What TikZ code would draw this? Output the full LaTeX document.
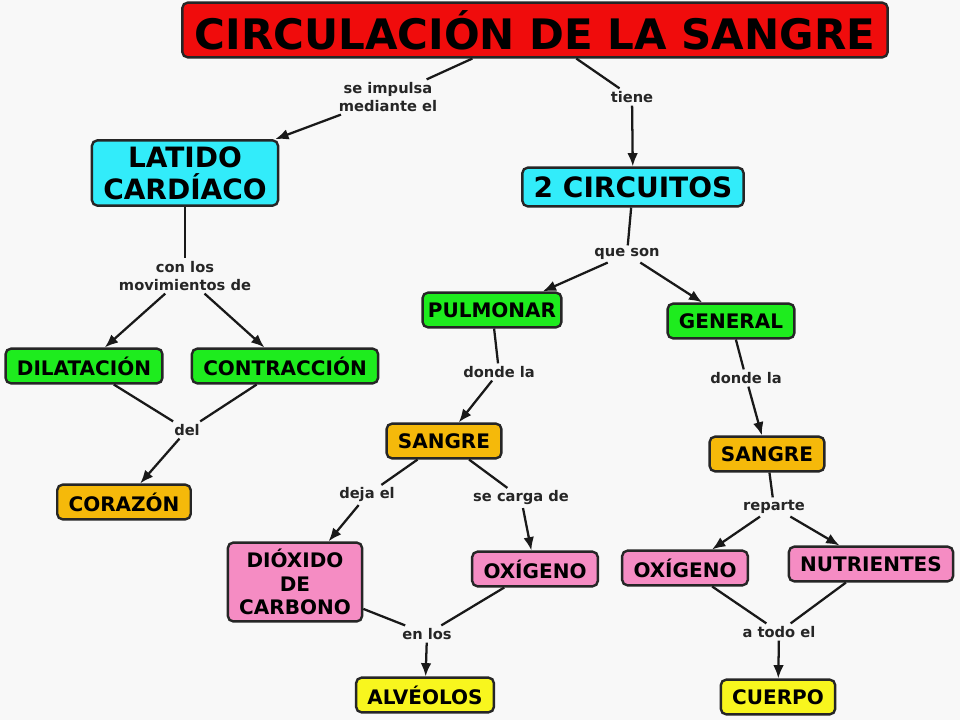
\documentclass[tikz,border=0pt]{standalone}
\usepackage{fontspec}
\setmainfont{DejaVu Sans}
\usetikzlibrary{arrows.meta}

\definecolor{fondo}{RGB}{248,248,248}
\definecolor{rojo}{RGB}{240,12,12}
\definecolor{celeste}{RGB}{50,236,250}
\definecolor{verde}{RGB}{30,236,30}
\definecolor{naranja}{RGB}{245,185,10}
\definecolor{rosa}{RGB}{245,140,195}
\definecolor{amarillo}{RGB}{248,246,30}

\tikzset{
  concepto/.style={draw=black!85, line width=1.8pt, rounded corners=4pt, align=center,
    font=\bfseries\fontsize{15}{17.5}\selectfont, inner xsep=8.5pt, inner ysep=3pt, minimum height=26pt},
  principal/.style={concepto, font=\bfseries\fontsize{21}{24}\selectfont, inner ysep=4.5pt, minimum height=29pt},
  enlace/.style={font=\bfseries\fontsize{11}{13.5}\selectfont, text=black!85, fill=fondo,
    inner sep=2pt, align=center},
  linea/.style={line width=1.7pt, draw=black!90},
  flecha/.style={linea, -{Latex[length=10pt,width=8pt]}}
}

\begin{document}
\begin{tikzpicture}[x=0.75pt, y=-0.75pt]
  \fill[fondo] (0,0) rectangle (960,720);
  \useasboundingbox (0,0) rectangle (960,720);

  % conceptos
  \node[concepto, fill=rojo, font=\bfseries\fontsize{31.5}{36}\selectfont, minimum width=529pt, minimum height=41pt] (titulo) at (535,30) {CIRCULACIÓN DE LA SANGRE};
  \node[principal, fill=celeste] (latido) at (185,173) {LATIDO\\CARDÍACO};
  \node[principal, fill=celeste] (circuitos) at (633,187) {2 CIRCUITOS};
  \node[concepto, fill=verde, inner xsep=4pt] (pulmonar) at (492,310) {PULMONAR};
  \node[concepto, fill=verde] (general) at (731,321) {GENERAL};
  \node[concepto, fill=verde] (dilatacion) at (84,366) {DILATACIÓN};
  \node[concepto, fill=verde] (contraccion) at (285,366) {CONTRACCIÓN};
  \node[concepto, fill=naranja] (corazon) at (124,502) {CORAZÓN};
  \node[concepto, fill=naranja] (sangreP) at (444,441) {SANGRE};
  \node[concepto, fill=naranja] (sangreG) at (767,454) {SANGRE};
  \node[concepto, fill=rosa, font=\bfseries\fontsize{15}{17.5}\selectfont, inner ysep=5pt] (dioxido) at (295,582) {DIÓXIDO\\DE\\CARBONO};
  \node[concepto, fill=rosa] (oxigenoP) at (535,569) {OXÍGENO};
  \node[concepto, fill=rosa] (oxigenoG) at (685,568) {OXÍGENO};
  \node[concepto, fill=rosa] (nutrientes) at (871,564) {NUTRIENTES};
  \node[concepto, fill=amarillo] (alveolos) at (425,695) {ALVÉOLOS};
  \node[concepto, fill=amarillo] (cuerpo) at (778,697) {CUERPO};

  % palabras de enlace
  \node[enlace] (impulsa) at (388,97) {se impulsa\\mediante el};
  \node[enlace] (tiene) at (632,97) {tiene};
  \node[enlace] (movimientos) at (185,276) {con los\\movimientos de};
  \node[enlace] (queson) at (627,254) {que son};
  \node[enlace] (dondeP) at (499,372) {donde la};
  \node[enlace] (dondeG) at (746,378) {donde la};
  \node[enlace] (del) at (187,430) {del};
  \node[enlace] (deja) at (367,495) {deja el};
  \node[enlace] (carga) at (521,498) {se carga de};
  \node[enlace] (reparte) at (774,507) {reparte};
  \node[enlace] (enlos) at (427,634) {en los};
  \node[enlace] (todo) at (779,632) {a todo el};

  % conexiones
  \draw[linea] (titulo) -- (impulsa);
  \draw[flecha] (impulsa) -- (latido);
  \draw[linea] (titulo) -- (tiene);
  \draw[flecha] (tiene) -- (circuitos);
  \draw[linea] (latido) -- (movimientos);
  \draw[flecha] (movimientos) -- (dilatacion);
  \draw[flecha] (movimientos) -- (contraccion);
  \draw[linea] (dilatacion) -- (del);
  \draw[linea] (contraccion) -- (del);
  \draw[flecha] (del) -- (corazon);
  \draw[linea] (circuitos) -- (queson);
  \draw[flecha] (queson) -- ([xshift=38pt]pulmonar.north);
  \draw[flecha] (queson) -- (general);
  \draw[linea] (pulmonar) -- (dondeP);
  \draw[flecha] (dondeP) -- (sangreP);
  \draw[linea] (general) -- (dondeG);
  \draw[flecha] (dondeG) -- (sangreG);
  \draw[linea] (sangreP) -- (deja);
  \draw[flecha] (deja) -- (dioxido);
  \draw[linea] (sangreP) -- (carga);
  \draw[flecha] (carga) -- (oxigenoP);
  \draw[linea] (dioxido) -- (enlos);
  \draw[linea] (oxigenoP) -- (enlos);
  \draw[flecha] (enlos) -- (alveolos);
  \draw[linea] (sangreG) -- (reparte);
  \draw[flecha] (reparte) -- (oxigenoG);
  \draw[flecha] (reparte) -- (nutrientes);
  \draw[linea] (oxigenoG) -- (todo);
  \draw[linea] (nutrientes) -- (todo);
  \draw[flecha] (todo) -- (cuerpo);
\end{tikzpicture}
\end{document}
